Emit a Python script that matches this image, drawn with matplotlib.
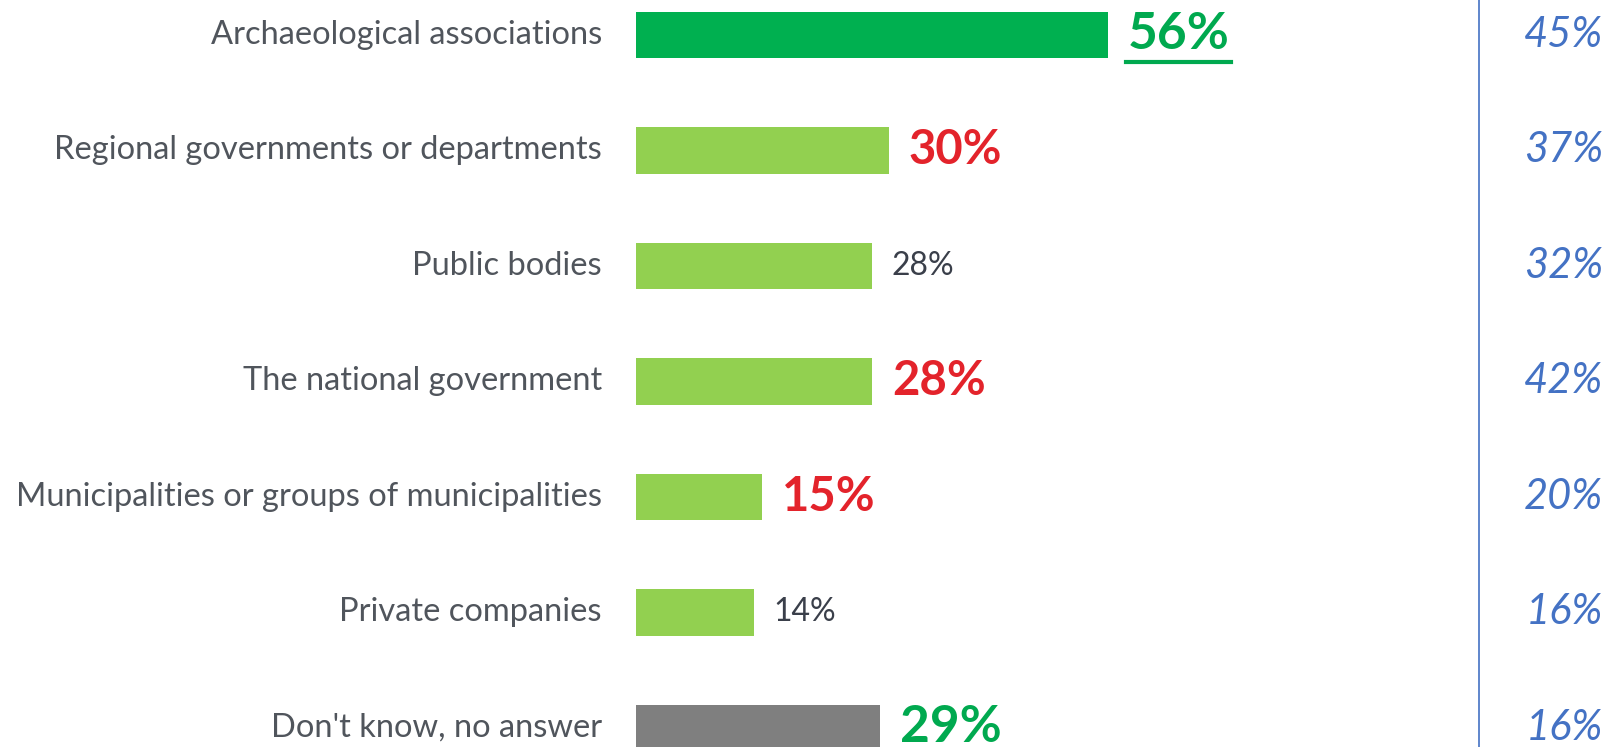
import matplotlib
matplotlib.use("Agg")
import matplotlib.pyplot as plt
import matplotlib.transforms as mtransforms
from matplotlib.lines import Line2D

plt.rcParams['font.family'] = ['Lato', 'DejaVu Sans']

# data
categories = [
    "Archaeological associations",
    "Regional governments or departments",
    "Public bodies",
    "The national government",
    "Municipalities or groups of municipalities",
    "Private companies",
    "Don't know, no answer",
]
values = [56, 30, 28, 28, 15, 14, 29]
other_values = [45, 37, 32, 42, 20, 16, 16]

# looks
bar_colors = ["#00B050", "#92D050", "#92D050", "#92D050", "#92D050", "#92D050", "#7F7F7F"]
label_kind = ["green", "red", "plain", "red", "red", "plain", "green"]
underline = [True, False, False, False, False, False, False]

W, H, DPI = 1609, 747, 100
x0_px = 636          # where 0% sits
px_per_pct = 8.43
row_px = 115.5
first_px = 35

fig = plt.figure(figsize=(W / DPI, H / DPI), dpi=DPI)
ax = fig.add_axes([0, 0, 1, 1])
ax.set_xlim(-x0_px / px_per_pct, (W - x0_px) / px_per_pct)
ax.set_ylim((H - first_px) / row_px, -first_px / row_px)
ax.axis("off")

y = list(range(len(categories)))
ax.barh(y, values, height=0.4, color=bar_colors)

px = 72 / DPI  # points per pixel
for i, (cat, v) in enumerate(zip(categories, values)):
    ax.annotate(cat, (0, i), xytext=(-34 * px, 0), textcoords="offset points",
                ha="right", va="center", fontsize=23.5, color="#50555C")
    kind = label_kind[i]
    if kind == "plain":
        t = ax.annotate(f"{v}%", (v, i), xytext=(19 * px, 0), textcoords="offset points",
                        ha="left", va="center", fontsize=23, color="#3A3F4A")
    elif kind == "red":
        t = ax.annotate(f"{v}%", (v, i), xytext=(20 * px, 0), textcoords="offset points",
                        ha="left", va="center", fontsize=34, fontweight="bold", color="#E3232B")
    else:
        col = "#00A94F"
        t = ax.annotate(f"{v}%", (v, i), xytext=(20 * px, 0), textcoords="offset points",
                        ha="left", va="center", fontsize=37, fontweight="bold", color=col)
        if underline[i]:
            fig.canvas.draw()
            bb = t.get_window_extent()
            yl = H - 62
            fig.add_artist(Line2D([(bb.x0 - 2) / W, (bb.x1 + 1) / W], [yl / H, yl / H],
                                  color=col, lw=3))

# separator and the comparison column
ax.axvline((1479 - x0_px) / px_per_pct, color="#4472C4", lw=1.2)
tr = mtransforms.blended_transform_factory(fig.transFigure, ax.transData)
for i, v in enumerate(other_values):
    ax.text(1603 / W, i, f"{v}%", transform=tr, ha="right", va="center",
            fontsize=30, fontstyle="italic", color="#4472C4")

fig.savefig("out.png", dpi=DPI)
